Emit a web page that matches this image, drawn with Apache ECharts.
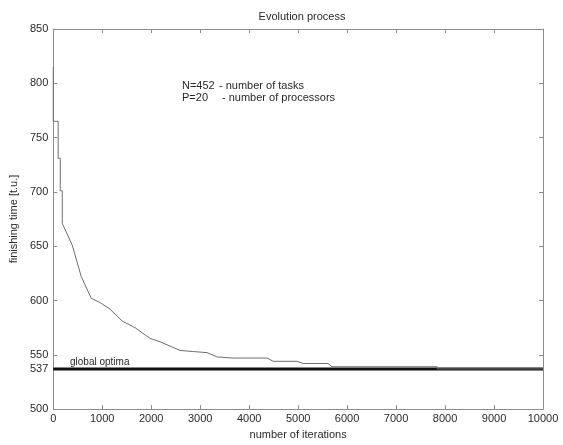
<!DOCTYPE html>
<html>
<head>
<meta charset="utf-8">
<script src="https://cdn.jsdelivr.net/npm/echarts@6/dist/echarts.min.js"></script>
<style>
  html, body { margin: 0; padding: 0; background: #fff; }
  #main { width: 563px; height: 445px; }
</style>
</head>
<body>
<div id="main"></div>
<script>
// finishing time vs number of iterations
var iterations = [0, 0, 100, 100, 143, 143, 184, 184, 388, 571, 776, 960, 1160, 1410, 1670, 1980, 2180, 2590, 2860, 3140, 3350, 3670, 4370, 4490, 4980, 5100, 5610, 5690, 7840, 7840, 10000];
var times = [815, 765, 765, 731, 731, 701, 701, 671, 651, 622, 602, 598, 592, 581, 575, 565, 562, 554, 553, 552, 548, 547, 547, 544, 544, 542, 542, 539, 539, 537, 537];

var optimaX = [0, 10000];
var optimaY = [537, 537];

var yTicks = [500, 550, 600, 650, 700, 750, 800, 850];
var yLabels = [500, 537, 550, 600, 650, 700, 750, 800, 850];

var font = '"Liberation Sans", Arial, sans-serif';
var axisGray = '#8c8c8c';
var textCol = '#2a2a2a';

var curve = iterations.map(function (x, i) { return [x, times[i]]; });
var optima = optimaX.map(function (x, i) { return [x, optimaY[i]]; });

var chart = echarts.init(document.getElementById('main'));

var baseX = {
  type: 'value', min: 0, max: 10000, interval: 1000,
  axisLine: { show: true, onZero: false, lineStyle: { color: axisGray, width: 1 } },
  axisTick: { show: true, inside: true, length: 4, lineStyle: { color: axisGray } },
  splitLine: { show: false }
};
var baseY = {
  type: 'value', min: 500, max: 850, interval: 50,
  axisLine: { show: true, onZero: false, lineStyle: { color: axisGray, width: 1 } },
  axisTick: { show: true, inside: true, length: 4, customValues: yTicks, lineStyle: { color: axisGray } },
  splitLine: { show: false }
};

chart.setOption({
  animation: false,
  backgroundColor: '#fff',
  title: {
    text: 'Evolution process',
    left: 297, top: 6, textAlign: 'center',
    textStyle: { fontFamily: font, fontSize: 11, fontWeight: 'normal', color: textCol }
  },
  grid: { left: 53, right: 20, top: 29, bottom: 30, containLabel: false },
  xAxis: [
    Object.assign({}, baseX, {
      position: 'bottom',
      name: 'number of iterations', nameLocation: 'middle', nameGap: 18,
      nameTextStyle: { fontFamily: font, fontSize: 11, color: textCol },
      axisLabel: {
        show: true, margin: 4, fontFamily: font, fontSize: 11, color: textCol,
        formatter: function (v) { return String(v); }
      }
    }),
    Object.assign({}, baseX, { position: 'top', axisLabel: { show: false } })
  ],
  yAxis: [
    Object.assign({}, baseY, {
      position: 'left',
      name: 'finishing time [t.u.]', nameLocation: 'middle', nameGap: 28,
      nameTextStyle: { fontFamily: font, fontSize: 11, color: textCol },
      axisLabel: { show: true, margin: 5, customValues: yLabels, fontFamily: font, fontSize: 11, color: textCol }
    }),
    Object.assign({}, baseY, { position: 'right', axisLabel: { show: false } })
  ],
  graphic: [
    { type: 'text', left: 182, top: 80, style: { text: 'N=452', font: '11px ' + font, fill: textCol } },
    { type: 'text', left: 219, top: 80, style: { text: '- number of tasks', font: '11px ' + font, fill: textCol } },
    { type: 'text', left: 182, top: 92, style: { text: 'P=20', font: '11px ' + font, fill: textCol } },
    { type: 'text', left: 222, top: 92, style: { text: '- number of processors', font: '11px ' + font, fill: textCol } },
    { type: 'text', left: 70, top: 357, style: { text: 'global optima', font: '10px ' + font, fill: textCol } }
  ],
  series: [
    {
      type: 'line', data: optima, showSymbol: false, silent: true,
      lineStyle: { color: '#111', width: 3 }, z: 2
    },
    {
      type: 'line', data: curve, showSymbol: false, silent: true,
      lineStyle: { color: '#6e6e6e', width: 1 }, z: 3
    }
  ]
});
</script>
</body>
</html>
